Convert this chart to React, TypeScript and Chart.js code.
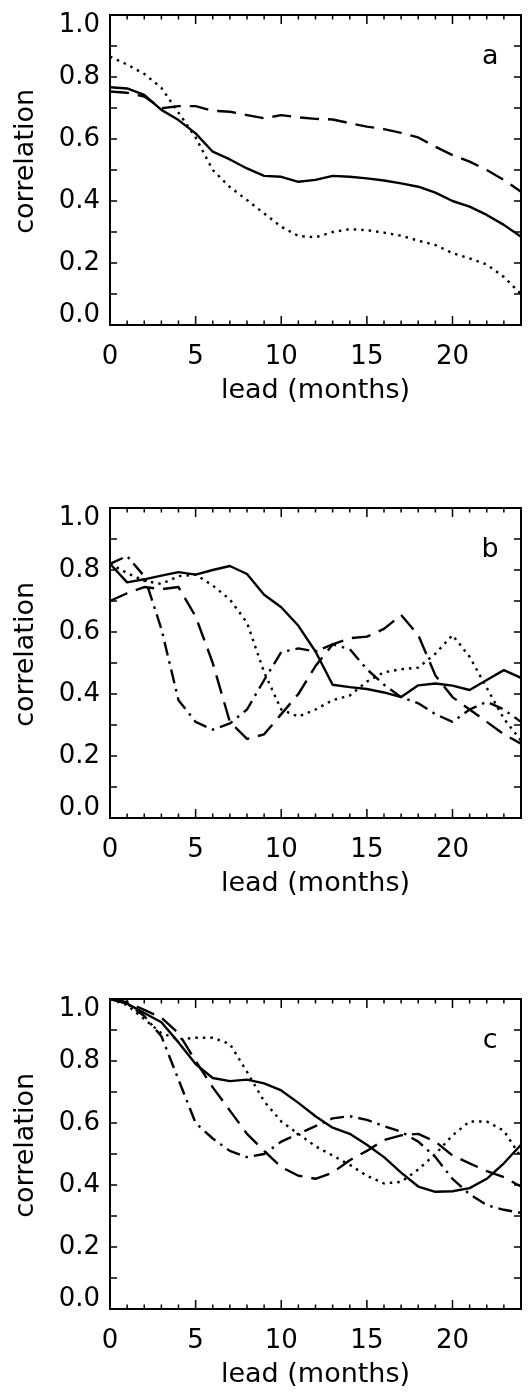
import React, { useEffect, useRef } from 'react';
import { Chart, registerables } from 'chart.js';

Chart.register(...registerables);

// ---------------- data ----------------
const LEAD_MONTHS = [0, 1, 2, 3, 4, 5, 6, 7, 8, 9, 10, 11, 12, 13, 14, 15, 16, 17, 18, 19, 20, 21, 22, 23, 24];

const X_MIN = 0;
const X_MAX = 24;
const X_LABEL_STEP = 5;
const Y_TICK_LABELS = ['0.0', '0.2', '0.4', '0.6', '0.8', '1.0'];
const X_TITLE = 'lead (months)';
const Y_TITLE = 'correlation';
const PANEL_LABELS = ['a', 'b', 'c'];

// panel a
const A_SOLID = [0.767, 0.763, 0.742, 0.694, 0.661, 0.618, 0.559, 0.534, 0.505, 0.481, 0.478, 0.462, 0.468, 0.481, 0.478, 0.473, 0.466, 0.457, 0.446, 0.427, 0.4, 0.382, 0.355, 0.323, 0.285];
const A_DOTTED = [0.866, 0.84, 0.81, 0.765, 0.685, 0.605, 0.5, 0.445, 0.403, 0.36, 0.317, 0.287, 0.283, 0.3, 0.309, 0.306, 0.298, 0.288, 0.272, 0.258, 0.232, 0.215, 0.195, 0.155, 0.1];
const A_DASHED = [0.753, 0.749, 0.737, 0.699, 0.706, 0.706, 0.691, 0.688, 0.677, 0.667, 0.677, 0.67, 0.665, 0.663, 0.651, 0.64, 0.632, 0.62, 0.605, 0.575, 0.548, 0.527, 0.5, 0.468, 0.43];

// panel b
const B_SOLID = [0.82, 0.76, 0.77, 0.782, 0.793, 0.785, 0.8, 0.813, 0.787, 0.72, 0.68, 0.62, 0.537, 0.43, 0.422, 0.416, 0.405, 0.39, 0.428, 0.434, 0.427, 0.413, 0.445, 0.477, 0.452];
const B_DOTTED = [0.82, 0.79, 0.765, 0.755, 0.78, 0.785, 0.75, 0.705, 0.63, 0.47, 0.35, 0.327, 0.35, 0.38, 0.395, 0.44, 0.47, 0.48, 0.485, 0.53, 0.59, 0.52, 0.42, 0.32, 0.25];
const B_DASHED = [0.7, 0.725, 0.745, 0.738, 0.745, 0.65, 0.5, 0.31, 0.255, 0.27, 0.335, 0.4, 0.49, 0.56, 0.58, 0.585, 0.61, 0.655, 0.59, 0.46, 0.39, 0.35, 0.31, 0.27, 0.24];
const B_DASHDOT = [0.82, 0.845, 0.78, 0.61, 0.38, 0.31, 0.285, 0.305, 0.35, 0.445, 0.535, 0.547, 0.537, 0.56, 0.545, 0.48, 0.43, 0.39, 0.37, 0.335, 0.31, 0.35, 0.375, 0.35, 0.31];

// panel c
const C_SOLID = [1.0, 0.985, 0.955, 0.925, 0.86, 0.79, 0.745, 0.735, 0.74, 0.728, 0.705, 0.665, 0.622, 0.585, 0.565, 0.53, 0.49, 0.44, 0.395, 0.378, 0.38, 0.39, 0.42, 0.47, 0.53];
const C_DOTTED = [1.0, 0.98, 0.935, 0.89, 0.87, 0.875, 0.875, 0.855, 0.765, 0.67, 0.605, 0.565, 0.525, 0.495, 0.465, 0.43, 0.405, 0.41, 0.45, 0.5, 0.56, 0.605, 0.605, 0.575, 0.49];
const C_DASHED = [1.0, 0.99, 0.965, 0.94, 0.89, 0.8, 0.715, 0.64, 0.565, 0.51, 0.458, 0.43, 0.42, 0.44, 0.48, 0.51, 0.545, 0.56, 0.565, 0.54, 0.495, 0.47, 0.445, 0.425, 0.395];
const C_DASHDOT = [1.0, 0.985, 0.945, 0.88, 0.74, 0.6, 0.55, 0.51, 0.49, 0.5, 0.54, 0.565, 0.59, 0.615, 0.622, 0.61, 0.59, 0.572, 0.54, 0.49, 0.42, 0.37, 0.335, 0.32, 0.31];

// ---------------- styling ----------------
type LineStyle = 'solid' | 'dotted' | 'dashed' | 'dashdot';
const DASH: Record<LineStyle, number[]> = {
  solid: [],
  dotted: [2.5, 5],
  dashed: [19, 9],
  dashdot: [14, 6, 2.5, 6],
};

const PANELS: { label: string; series: { values: number[]; style: LineStyle }[] }[] = [
  {
    label: PANEL_LABELS[0],
    series: [
      { values: A_SOLID, style: 'solid' },
      { values: A_DOTTED, style: 'dotted' },
      { values: A_DASHED, style: 'dashed' },
    ],
  },
  {
    label: PANEL_LABELS[1],
    series: [
      { values: B_SOLID, style: 'solid' },
      { values: B_DOTTED, style: 'dotted' },
      { values: B_DASHED, style: 'dashed' },
      { values: B_DASHDOT, style: 'dashdot' },
    ],
  },
  {
    label: PANEL_LABELS[2],
    series: [
      { values: C_SOLID, style: 'solid' },
      { values: C_DOTTED, style: 'dotted' },
      { values: C_DASHED, style: 'dashed' },
      { values: C_DASHDOT, style: 'dashdot' },
    ],
  },
];

const FONT_FAMILY = '"DejaVu Sans", sans-serif';
const CANVAS_W = 528;
const CANVAS_H = 405;
const PLOT_TOP = 15; // chart area top within canvas
const PLOT_H = 310;
const AXIS_W = 110;
const PANEL_CANVAS_TOPS = [0, 493, 984];

const framePlugin = {
  id: 'idlFrame',
  afterDatasetsDraw(chart: any, _args: any, opts: any) {
    const { ctx, chartArea: a } = chart;
    const x = chart.scales.x;
    const y = chart.scales.y;
    ctx.save();
    ctx.setLineDash([]);
    ctx.strokeStyle = '#000';
    ctx.lineWidth = 2;
    ctx.strokeRect(a.left, a.top, a.right - a.left, a.bottom - a.top);
    ctx.lineWidth = 1.5;
    ctx.beginPath();
    for (let m = X_MIN; m <= X_MAX; m += 1) {
      const px = x.getPixelForValue(m);
      const len = m % X_LABEL_STEP === 0 ? 9 : 4.5;
      ctx.moveTo(px, a.bottom);
      ctx.lineTo(px, a.bottom - len);
      ctx.moveTo(px, a.top);
      ctx.lineTo(px, a.top + len);
    }
    for (let i = 0; i <= 10; i++) {
      const py = y.getPixelForValue(i / 10);
      ctx.moveTo(a.left, py);
      ctx.lineTo(a.left + 7, py);
      ctx.moveTo(a.right, py);
      ctx.lineTo(a.right - 7, py);
    }
    ctx.stroke();
    ctx.fillStyle = '#000';
    ctx.font = '27px ' + FONT_FAMILY;
    ctx.textAlign = 'center';
    ctx.textBaseline = 'alphabetic';
    ctx.fillText(opts.label, x.getPixelForValue(22.2), y.getPixelForValue(0.843));
    ctx.restore();
  },
};

function Panel({ idx }: { idx: number }) {
  const ref = useRef<HTMLCanvasElement | null>(null);
  useEffect(() => {
    const panel = PANELS[idx];
    const chart = new Chart(ref.current as HTMLCanvasElement, {
      type: 'line',
      data: {
        datasets: panel.series.map((s) => ({
          data: LEAD_MONTHS.map((m, i) => ({ x: m, y: s.values[i] })),
          borderColor: '#000',
          borderWidth: 2.4,
          borderDash: DASH[s.style],
          borderCapStyle: 'butt',
          borderJoinStyle: 'round',
          pointRadius: 0,
          tension: 0,
          fill: false,
        })),
      },
      options: {
        animation: false,
        responsive: false,
        devicePixelRatio: 1,
        layout: { padding: { left: 0, right: 7, top: PLOT_TOP, bottom: 0 }, autoPadding: false },
        plugins: {
          legend: { display: false },
          tooltip: { enabled: false },
          idlFrame: { label: panel.label },
        } as any,
        scales: {
          x: {
            type: 'linear',
            min: X_MIN,
            max: X_MAX,
            grid: { display: false, drawTicks: false },
            border: { display: false },
            ticks: {
              stepSize: X_LABEL_STEP,
              includeBounds: false,
              autoSkip: false,
              maxRotation: 0,
              padding: 17,
              color: '#000',
              font: { family: FONT_FAMILY, size: 26 },
            },
            title: {
              display: true,
              text: X_TITLE,
              color: '#000',
              font: { family: FONT_FAMILY, size: 27, lineHeight: 1 },
              padding: { top: 0, bottom: 1 },
            },
            afterFit: (s: any) => {
              s.height = CANVAS_H - PLOT_TOP - PLOT_H;
              s.paddingLeft = 0;
              s.paddingRight = 0;
            },
          },
          y: {
            type: 'linear',
            min: 0,
            max: 1,
            grid: { display: false, drawTicks: false },
            border: { display: false },
            ticks: {
              stepSize: 0.2,
              padding: 10,
              color: '#000',
              font: { family: FONT_FAMILY, size: 26, lineHeight: 20 / 26 },
              callback: (v: any) => {
                const k = Math.round(Number(v) / 0.2);
                const lbl = Y_TICK_LABELS[k];
                if (k === Y_TICK_LABELS.length - 1) return ['', lbl];
                if (k === 0) return [lbl, ''];
                return lbl;
              },
            },
            title: {
              display: true,
              text: '  ' + Y_TITLE,
              color: '#000',
              font: { family: FONT_FAMILY, size: 27, lineHeight: 1 },
              padding: { top: 12, bottom: 0 },
            },
            afterFit: (s: any) => {
              s.width = AXIS_W;
              s.paddingTop = 0;
              s.paddingBottom = 0;
            },
          },
        },
      } as any,
      plugins: [framePlugin],
    });
    return () => chart.destroy();
  }, [idx]);
  return (
    <canvas
      ref={ref}
      width={CANVAS_W}
      height={CANVAS_H}
      style={{ position: 'absolute', left: 0, top: PANEL_CANVAS_TOPS[idx], width: CANVAS_W, height: CANVAS_H, display: 'block' }}
    />
  );
}

export default function App() {
  return (
    <div style={{ position: 'absolute', left: 0, top: 0, width: CANVAS_W, height: 1392, background: '#fff' }}>
      {PANELS.map((_, i) => (
        <Panel key={i} idx={i} />
      ))}
    </div>
  );
}
